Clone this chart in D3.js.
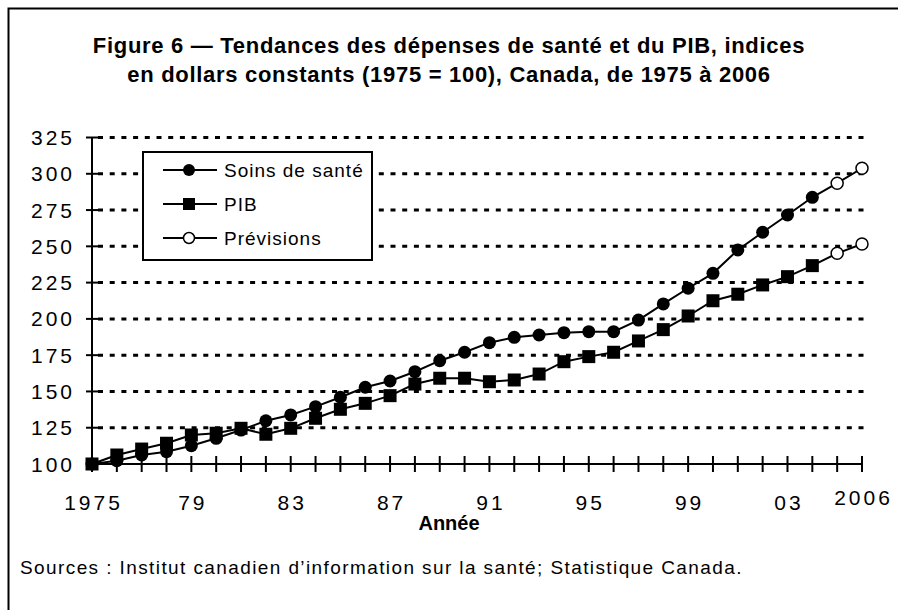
<!DOCTYPE html>
<html>
<head>
<meta charset="utf-8">
<script src="https://cdn.jsdelivr.net/npm/d3@7"></script>
<style>
  body { margin: 0; background: #ffffff; }
  text { font-family: "Liberation Sans", Arial, sans-serif; fill: #000; }
</style>
</head>
<body>
<div id="canvas"></div>
<script>
"use strict"

/* data */
let years = [1975, 1976, 1977, 1978, 1979, 1980, 1981, 1982, 1983, 1984,
             1985, 1986, 1987, 1988, 1989, 1990, 1991, 1992, 1993, 1994,
             1995, 1996, 1997, 1998, 1999, 2000, 2001, 2002, 2003, 2004];
let soinsSante = [100, 102.3, 106.2, 108.5, 112.6, 117.7, 123.4, 129.8, 133.8, 139.5,
                  146, 152.9, 157.2, 163.6, 171.2, 177, 183.6, 187.3, 188.9, 190.5,
                  191.2, 191.2, 199.2, 210.3, 221.1, 231.4, 247.5, 259.7, 271.6, 283.8];
let pib = [100, 106.2, 110.3, 114.3, 120, 121.2, 124.6, 120.5, 124.6, 131.5,
           137.7, 141.8, 147.1, 155.1, 159.1, 159.1, 156.7, 157.9, 162, 170.5,
           174, 177, 184.8, 192.6, 202, 212.5, 217, 223.4, 229.1, 236.7];

/* previsions */
let forecastYears = [2005, 2006];
let soinsForecast = [293.5, 303.8];
let pibForecast = [245.2, 251.6];

let yTicks = [100, 125, 150, 175, 200, 225, 250, 275, 300, 325];
let xLabelYears = [1975, 1979, 1983, 1987, 1991, 1995, 1999, 2003, 2006];
let xLabels = ["1975", "79", "83", "87", "91", "95", "99", "03", "2006"];

let titleLines = ["Figure 6 \u2014 Tendances des d\u00e9penses de sant\u00e9 et du PIB, indices",
                  "en dollars constants (1975 = 100), Canada, de 1975 \u00e0 2006"];
let legendNames = ["Soins de sant\u00e9", "PIB", "Pr\u00e9visions"];

let drawingWidth = 898;
let drawingHeight = 610;

let drawing = d3.select("#canvas")
    .append("svg")
    .attr("width", drawingWidth)
    .attr("height", drawingHeight);

/* frame round the figure */
drawing.append("rect")
    .attr("x", 8.5)
    .attr("y", 8.5)
    .attr("width", 1000)
    .attr("height", 1000)
    .attr("fill", "none")
    .attr("stroke", "black")
    .attr("stroke-width", 2);

/* scales */
let x = d3.scaleLinear()
    .domain([1975, 2006])
    .range([92, 862]);

let y = d3.scaleLinear()
    .domain([100, 325])
    .range([464, 137.5]);

/* title */
drawing.selectAll(".title")
    .data(titleLines)
    .enter()
    .append("text")
    .attr("class", "title")
    .attr("x", 449)
    .attr("y", (d, i) => 53 + i * 29)
    .attr("text-anchor", "middle")
    .attr("font-size", 22)
    .attr("font-weight", "bold")
    .attr("letter-spacing", 0.7)
    .text(d => d);

/* dotted grid lines */
drawing.selectAll(".grid")
    .data(yTicks.slice(1))
    .enter()
    .append("line")
    .attr("x1", x(1975) + 6)
    .attr("x2", 866)
    .attr("y1", d => y(d))
    .attr("y2", d => y(d))
    .attr("stroke", "black")
    .attr("stroke-width", 3)
    .attr("stroke-dasharray", "5,6.7");

/* y axis */
drawing.append("line")
    .attr("x1", x(1975))
    .attr("x2", x(1975))
    .attr("y1", y(325))
    .attr("y2", y(100))
    .attr("stroke", "black")
    .attr("stroke-width", 2);

drawing.selectAll(".yTick")
    .data(yTicks)
    .enter()
    .append("line")
    .attr("x1", x(1975) - 6)
    .attr("x2", x(1975) + 6)
    .attr("y1", d => y(d))
    .attr("y2", d => y(d))
    .attr("stroke", "black")
    .attr("stroke-width", 2);

drawing.selectAll(".yLabel")
    .data(yTicks)
    .enter()
    .append("text")
    .attr("x", 75)
    .attr("y", d => y(d) + 7.5)
    .attr("text-anchor", "end")
    .attr("font-size", 21)
    .attr("letter-spacing", 3)
    .text(d => d);

/* x axis */
drawing.append("line")
    .attr("x1", x(1975))
    .attr("x2", x(2006))
    .attr("y1", y(100))
    .attr("y2", y(100))
    .attr("stroke", "black")
    .attr("stroke-width", 2);

drawing.selectAll(".xTick")
    .data(years.concat(forecastYears))
    .enter()
    .append("line")
    .attr("x1", d => x(d))
    .attr("x2", d => x(d))
    .attr("y1", y(100) - 8)
    .attr("y2", y(100) + 8)
    .attr("stroke", "black")
    .attr("stroke-width", 2);

drawing.selectAll(".xLabel")
    .data(xLabels)
    .enter()
    .append("text")
    .attr("x", (d, i) => x(xLabelYears[i]) + 1.5)
    .attr("y", (d, i) => i == xLabels.length - 1 ? 505 : 510)
    .attr("text-anchor", "middle")
    .attr("font-size", 21)
    .attr("letter-spacing", 3)
    .text(d => d);

/* axis title */
drawing.append("text")
    .attr("x", 449)
    .attr("y", 530)
    .attr("text-anchor", "middle")
    .attr("font-size", 20)
    .attr("font-weight", "bold")
    .text("Ann\u00e9e");

/* source note */
drawing.append("text")
    .attr("x", 20)
    .attr("y", 574)
    .attr("font-size", 19)
    .attr("letter-spacing", 1.4)
    .text("Sources : Institut canadien d\u2019information sur la sant\u00e9; Statistique Canada.");

/* lines, actual values followed by the forecast */
let line = d3.line()
    .x(d => x(d[0]))
    .y(d => y(d[1]));

let soinsPoints = d3.zip(years, soinsSante).concat(d3.zip(forecastYears, soinsForecast));
let pibPoints = d3.zip(years, pib).concat(d3.zip(forecastYears, pibForecast));

drawing.append("path")
    .attr("d", line(pibPoints))
    .attr("fill", "none")
    .attr("stroke", "black")
    .attr("stroke-width", 2);

drawing.append("path")
    .attr("d", line(soinsPoints))
    .attr("fill", "none")
    .attr("stroke", "black")
    .attr("stroke-width", 2);

/* PIB squares */
drawing.selectAll(".pibMark")
    .data(d3.zip(years, pib))
    .enter()
    .append("rect")
    .attr("x", d => x(d[0]) - 6.5)
    .attr("y", d => y(d[1]) - 6.5)
    .attr("width", 13)
    .attr("height", 13)
    .attr("fill", "black");

/* health circles */
drawing.selectAll(".soinsMark")
    .data(d3.zip(years, soinsSante))
    .enter()
    .append("circle")
    .attr("cx", d => x(d[0]))
    .attr("cy", d => y(d[1]))
    .attr("r", 6.5)
    .attr("fill", "black");

/* forecast open circles */
drawing.selectAll(".forecastMark")
    .data(d3.zip(forecastYears, soinsForecast).concat(d3.zip(forecastYears, pibForecast)))
    .enter()
    .append("circle")
    .attr("cx", d => x(d[0]))
    .attr("cy", d => y(d[1]))
    .attr("r", 6)
    .attr("fill", "white")
    .attr("stroke", "black")
    .attr("stroke-width", 1.5);

/* legend box */
let legend = drawing.append("g");

legend.append("rect")
    .attr("x", 143)
    .attr("y", 152)
    .attr("width", 229)
    .attr("height", 108)
    .attr("fill", "white")
    .attr("stroke", "black")
    .attr("stroke-width", 2);

let legendRowY = d3.scalePoint()
    .domain(legendNames)
    .range([170, 238]);

legend.selectAll(".legendLine")
    .data(legendNames)
    .enter()
    .append("line")
    .attr("x1", 163)
    .attr("x2", 217)
    .attr("y1", d => legendRowY(d))
    .attr("y2", d => legendRowY(d))
    .attr("stroke", "black")
    .attr("stroke-width", 2);

legend.append("circle")
    .attr("cx", 189)
    .attr("cy", legendRowY(legendNames[0]))
    .attr("r", 6)
    .attr("fill", "black");

legend.append("rect")
    .attr("x", 183)
    .attr("y", legendRowY(legendNames[1]) - 6)
    .attr("width", 12)
    .attr("height", 12)
    .attr("fill", "black");

legend.append("circle")
    .attr("cx", 189)
    .attr("cy", legendRowY(legendNames[2]))
    .attr("r", 5.5)
    .attr("fill", "white")
    .attr("stroke", "black")
    .attr("stroke-width", 1.5);

legend.selectAll(".legendText")
    .data(legendNames)
    .enter()
    .append("text")
    .attr("x", 224)
    .attr("y", d => legendRowY(d) + 7)
    .attr("font-size", 19)
    .attr("letter-spacing", 1)
    .text(d => d);
</script>
</body>
</html>
